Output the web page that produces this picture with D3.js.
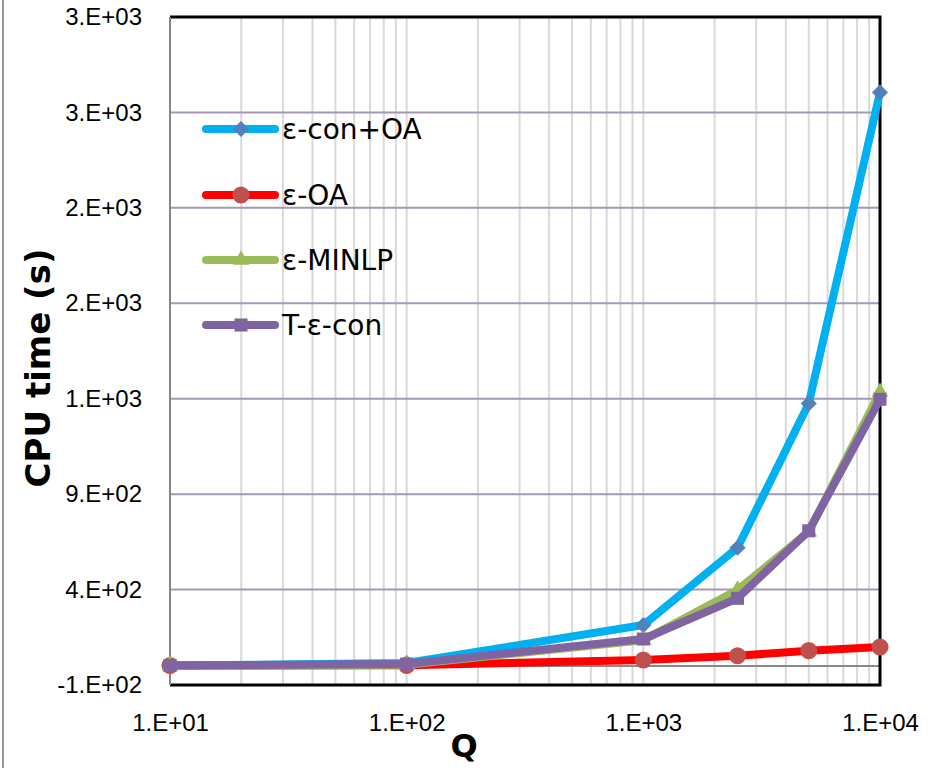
<!DOCTYPE html>
<html>
<head>
<meta charset="utf-8">
<script src="https://cdn.jsdelivr.net/npm/d3@7"></script>
<style>
  body { margin: 0; background: #fff; }
  svg { display: block; font-family: "Liberation Sans", Arial, sans-serif; }
</style>
</head>
<body>
<div id="container"></div>
<script>
// Data
const qValues = [10, 100, 1000, 2500, 5000, 10000];
const conOA = [2, 15, 214, 619, 1375, 3005];
const epsOA = [2, 3, 31, 53, 80, 99];
const epsMINLP = [1, 6, 135, 398, 703, 1435];
const tEpsCon = [2, 10, 141, 354, 708, 1397];
const seriesNames = ["ε-con+OA", "ε-OA", "ε-MINLP", "T-ε-con"];
const yTicks = [-100, 400, 900, 1400, 1900, 2400, 2900, 3400];
const yTickLabels = ["-1.E+02", "4.E+02", "9.E+02", "1.E+03", "2.E+03", "2.E+03", "3.E+03", "3.E+03"];
const xTicks = [10, 100, 1000, 10000];
const xTickLabels = ["1.E+01", "1.E+02", "1.E+03", "1.E+04"];

const draw = () => {
  const width = 935,
    height = 768;
  const left = 170, right = 880, top = 17, bottom = 685;

  const svg = d3.select("div#container")
    .append("svg")
    .attr("width", width)
    .attr("height", height);

  // Scales
  const x = d3.scaleLog().domain([10, 10000]).range([left, right]);
  const y = d3.scaleLinear().domain([-100, 3400]).range([bottom, top]);

  // outer chart border (left edge only visible)
  svg.append("line")
    .attr("x1", 3).attr("x2", 3).attr("y1", 0).attr("y2", height)
    .attr("stroke", "#9a9a9a").attr("stroke-width", 2);

  // minor vertical gridlines
  const minor = [];
  [10, 100, 1000].forEach((d) => {
    for (let k = 2; k <= 9; k++) minor.push(d * k);
  });
  svg.append("g").selectAll("line")
    .data(minor.concat([100, 1000]))
    .enter().append("line")
    .attr("x1", (d) => x(d)).attr("x2", (d) => x(d))
    .attr("y1", top).attr("y2", bottom)
    .attr("stroke", "#d9d9d9").attr("stroke-width", 2);

  // horizontal gridlines
  svg.append("g").selectAll("line")
    .data(yTicks.slice(1, -1))
    .enter().append("line")
    .attr("x1", left).attr("x2", right)
    .attr("y1", (d) => y(d)).attr("y2", (d) => y(d))
    .attr("stroke", "#a597b6").attr("stroke-width", 2);

  // zero line
  svg.append("line")
    .attr("x1", left).attr("x2", right)
    .attr("y1", y(0)).attr("y2", y(0))
    .attr("stroke", "#8a8a8a").attr("stroke-width", 2);

  // plot border
  svg.append("path")
    .attr("d", `M${left},${top}H${right}V${bottom}H${left}`)
    .attr("fill", "none").attr("stroke", "#000").attr("stroke-width", 3);
  svg.append("line")
    .attr("x1", left).attr("x2", left).attr("y1", top).attr("y2", bottom)
    .attr("stroke", "#868686").attr("stroke-width", 2);

  // Axes labels
  const yAxis = d3.axisLeft(y).tickValues(yTicks)
    .tickFormat((d, i) => yTickLabels[i]).tickSize(0).tickPadding(28);
  const gy = svg.append("g").attr("transform", `translate(${left},0)`).call(yAxis);
  gy.select(".domain").remove();
  gy.selectAll("text").attr("font-size", 24).attr("fill", "#000")
    .attr("font-family", "'Liberation Sans', Arial, sans-serif");

  const xAxis = d3.axisBottom(x).tickValues(xTicks)
    .tickFormat((d, i) => xTickLabels[i]).tickSize(0).tickPadding(29);
  const gx = svg.append("g").attr("transform", `translate(0,${bottom})`).call(xAxis);
  gx.select(".domain").remove();
  gx.selectAll("text").attr("font-size", 24).attr("fill", "#000")
    .attr("font-family", "'Liberation Sans', Arial, sans-serif");

  svg.append("text")
    .attr("transform", `translate(50,368) rotate(-90)`)
    .attr("text-anchor", "middle")
    .attr("font-family", "'DejaVu Sans', sans-serif")
    .attr("font-size", 34).attr("font-weight", "bold")
    .text("CPU time (s)");
  svg.append("text")
    .attr("x", 464).attr("y", 757)
    .attr("text-anchor", "middle")
    .attr("font-family", "'DejaVu Sans', sans-serif")
    .attr("font-size", 32).attr("font-weight", "bold")
    .text("Q");

  // Series
  const series = [
    { name: seriesNames[0], values: conOA, line: "#00b0f0", mark: "#4f81bd", sym: d3.symbolSquare, size: 130, rot: 45 },
    { name: seriesNames[1], values: epsOA, line: "#ff0000", mark: "#c0504d", sym: d3.symbolCircle, size: 230, rot: 0 },
    { name: seriesNames[2], values: epsMINLP, line: "#9bbb59", mark: "#9bbb59", sym: d3.symbolTriangle, size: 120, rot: 0 },
    { name: seriesNames[3], values: tEpsCon, line: "#8064a2", mark: "#8064a2", sym: d3.symbolSquare, size: 170, rot: 0 }
  ];

  const line = d3.line().x((d) => x(d[0])).y((d) => y(d[1]));

  series.forEach((s) => {
    const pts = qValues.map((q, i) => [q, s.values[i]]);
    const g = svg.append("g");
    g.append("path")
      .datum(pts)
      .attr("d", line)
      .attr("fill", "none")
      .attr("stroke", s.line)
      .attr("stroke-width", 8)
      .attr("stroke-linejoin", "round");
    g.selectAll("path.mk")
      .data(pts)
      .enter().append("path")
      .attr("class", "mk")
      .attr("transform", (d) => `translate(${x(d[0])},${y(d[1])}) rotate(${s.rot})`)
      .attr("d", d3.symbol().type(s.sym).size(s.size))
      .attr("fill", s.mark);
  });

  // Legend
  const legendRows = [129, 195, 260, 325];
  const lg = svg.append("g");
  series.forEach((s, i) => {
    const ry = legendRows[i];
    lg.append("line")
      .attr("x1", 206).attr("x2", 275).attr("y1", ry).attr("y2", ry)
      .attr("stroke", s.line).attr("stroke-width", 8).attr("stroke-linecap", "round");
    lg.append("path")
      .attr("transform", `translate(241,${ry}) rotate(${s.rot})`)
      .attr("d", d3.symbol().type(s.sym).size(s.size))
      .attr("fill", s.mark);
    lg.append("text")
      .attr("x", 282).attr("y", ry + 10)
      .attr("font-family", "'DejaVu Sans', sans-serif")
      .attr("font-size", 28)
      .text(s.name);
  });
};

draw();
</script>
</body>
</html>
